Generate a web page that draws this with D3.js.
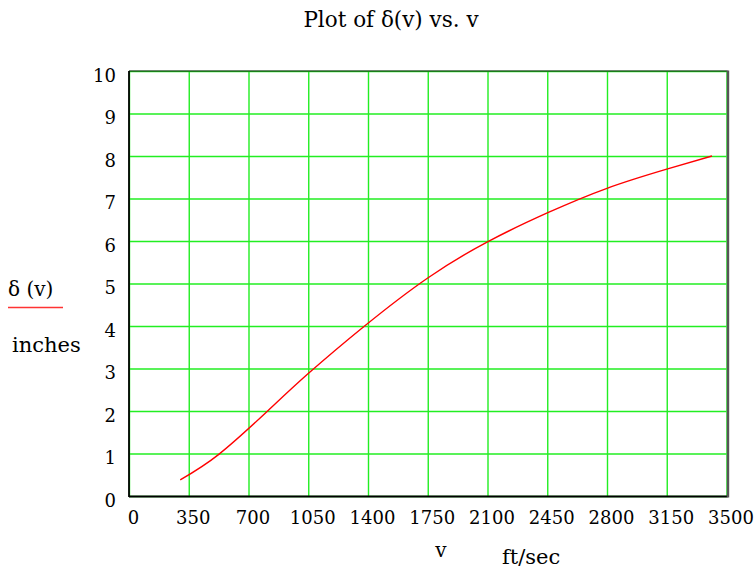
<!DOCTYPE html>
<html>
<head>
<meta charset="utf-8">
<script src="https://cdn.jsdelivr.net/npm/d3@7"></script>
<style>
  html, body { margin: 0; padding: 0; background: #fff; }
  svg { display: block; }
  text { font-family: "DejaVu Serif", serif; fill: #000; }
</style>
</head>
<body>
<svg id="chart" width="756" height="570"></svg>
<script>
// Velocity (ft/sec) and deflection δ(v) (inches)
const velocity   = [300, 526, 812, 1050, 1380, 1750, 2100, 2450, 2800, 3150, 3415];
const deflection = [0.38, 0.98, 2.0, 2.88, 4.0, 5.13, 5.98, 6.66, 7.24, 7.69, 8.0];

const xTicks = [0, 350, 700, 1050, 1400, 1750, 2100, 2450, 2800, 3150, 3500];
const yTicks = [0, 1, 2, 3, 4, 5, 6, 7, 8, 9, 10];

const svg = d3.select("#chart");
const plotLeft = 129, plotRight = 726.5, plotTop = 71, plotBottom = 496;

const x = d3.scaleLinear().domain([0, 3500]).range([plotLeft, plotRight]);
const y = d3.scaleLinear().domain([0, 10]).range([plotBottom, plotTop]);

// Title
svg.append("text")
  .attr("x", 391).attr("y", 27)
  .attr("text-anchor", "middle")
  .style("font-size", "21.5px")
  .text("Plot of δ(v) vs. v");

// Grid lines
const grid = svg.append("g").attr("class", "grid");
grid.append("g")
  .attr("transform", `translate(0,${plotBottom})`)
  .call(d3.axisBottom(x).tickValues(xTicks).tickSize(-(plotBottom - plotTop)).tickFormat(""))
  .call(g => g.select(".domain").remove())
  .call(g => g.selectAll("line").attr("stroke", "#22ee22").attr("stroke-width", 1.4));
grid.append("g")
  .attr("transform", `translate(${plotLeft},0)`)
  .call(d3.axisLeft(y).tickValues(yTicks).tickSize(-(plotRight - plotLeft)).tickFormat(""))
  .call(g => g.select(".domain").remove())
  .call(g => g.selectAll("line").attr("stroke", "#22ee22").attr("stroke-width", 1.4));

// Frame
svg.append("line").attr("x1", plotLeft).attr("x2", plotRight + 1).attr("y1", plotTop).attr("y2", plotTop)
  .attr("stroke", "#111").attr("stroke-width", 1.2);
svg.append("line").attr("x1", plotLeft).attr("x2", plotRight + 1).attr("y1", plotBottom + 0.5).attr("y2", plotBottom + 0.5)
  .attr("stroke", "#000").attr("stroke-width", 1.8);
svg.append("line").attr("x1", plotLeft).attr("x2", plotLeft).attr("y1", plotTop).attr("y2", plotBottom + 1)
  .attr("stroke", "#000").attr("stroke-width", 1.8);
svg.append("line").attr("x1", plotRight + 1.5).attr("x2", plotRight + 1.5).attr("y1", plotTop - 0.5).attr("y2", plotBottom + 1.5)
  .attr("stroke", "#555").attr("stroke-width", 2.4);

// Tick labels
svg.append("g")
  .attr("transform", `translate(0,${plotBottom})`)
  .call(d3.axisBottom(x).tickValues(xTicks).tickSize(0).tickPadding(0).tickFormat(d3.format("d")))
  .call(g => g.select(".domain").remove())
  .call(g => g.selectAll("text")
    .attr("dx", 4).attr("dy", 0).attr("y", 28)
    .style("font-size", "18px").style("font-family", "DejaVu Serif, serif").attr("fill", "#000"));

svg.append("g")
  .attr("transform", `translate(116,0)`)
  .call(d3.axisLeft(y).tickValues(yTicks).tickSize(0).tickPadding(0).tickFormat(d3.format("d")))
  .call(g => g.select(".domain").remove())
  .call(g => g.selectAll("text")
    .attr("x", 0).attr("dy", "0.32em").attr("transform", "translate(0,4.5)")
    .style("font-size", "18px").style("font-family", "DejaVu Serif, serif").attr("fill", "#000"));

// Curve
const line = d3.line()
  .x((d, i) => x(velocity[i]))
  .y((d, i) => y(deflection[i]))
  .curve(d3.curveNatural);
svg.append("path")
  .datum(velocity)
  .attr("d", line)
  .attr("fill", "none")
  .attr("stroke", "#ff0000")
  .attr("stroke-width", 1.4);

// Y-axis label with legend underline
svg.append("text").attr("x", 8).attr("y", 296).style("font-size", "20px").text("δ (v)");
svg.append("line").attr("x1", 8).attr("x2", 63).attr("y1", 307.5).attr("y2", 307.5)
  .attr("stroke", "#ff3333").attr("stroke-width", 1.5);
svg.append("text").attr("x", 12).attr("y", 352).style("font-size", "21px").text("inches");

// X-axis label
svg.append("text").attr("x", 441).attr("y", 557).attr("text-anchor", "middle")
  .style("font-size", "20px").text("v");
svg.append("text").attr("x", 502).attr("y", 564).style("font-size", "21px").text("ft/sec");
</script>
</body>
</html>
